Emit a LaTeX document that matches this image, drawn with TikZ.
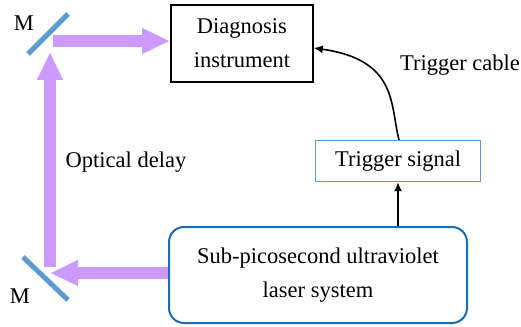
\documentclass[tikz,border=0pt]{standalone}
\usepackage{fontspec}
\setmainfont{Liberation Serif}
\usetikzlibrary{arrows.meta}
\definecolor{beam}{RGB}{204,153,255}
\definecolor{mirror}{RGB}{91,155,213}
\definecolor{lightblue}{RGB}{91,155,213}
\definecolor{darkblue}{RGB}{20,110,190}
\tikzset{
  lbl/.style={font=\fontsize{22.5}{34}\selectfont, inner sep=0pt},
  boxtext/.style={font=\fontsize{22.5}{34}\selectfont, align=center, inner sep=0pt},
  beamarrow/.style={draw=beam, line width=12pt, -{Triangle[length=28pt,width=24pt]}},
  mirrorbar/.style={draw=mirror, line width=5pt},
  sig/.style={draw=black, line width=1.6pt, -{Latex[length=9pt,width=8pt]}}
}
\begin{document}
\begin{tikzpicture}[x=1pt,y=-1pt]
\useasboundingbox (0,0) rectangle (521,326);
% boxes
\node[draw=black, line width=1.8pt, minimum width=142pt, minimum height=77pt, boxtext, anchor=north west] (diag) at (170,4) {Diagnosis\\instrument};
\node[draw=lightblue, line width=1.2pt, minimum width=165pt, minimum height=41pt, boxtext, anchor=north west] (trig) at (315,140) {Trigger signal};
\node[draw=darkblue, line width=2pt, rounded corners=15pt, minimum width=298pt, minimum height=96pt, boxtext, anchor=north west] (laser) at (168,226) {Sub-picosecond ultraviolet\\laser system};
% mirrors
\coordinate (m1a) at (28,54); \coordinate (m1b) at (68,14);
\coordinate (m2a) at (23,257); \coordinate (m2b) at (68,300);
\draw[mirrorbar] (m1a) -- (m1b);
\draw[mirrorbar] (m2a) -- (m2b);
\node[lbl] (M1) at (24,23) {M};
\node[lbl] (M2) at (20,296) {M};
% beams
\coordinate (b1) at (50,273);
\coordinate (b2) at (50,267);
\coordinate (b3) at (50,52);
\coordinate (b4) at (53,41);
\draw[beamarrow] (laser.west |- b1) -- (b1);
\draw[beamarrow] (b2) -- (b3);
\draw[beamarrow] (b4) -- (diag.west |- b4);
\node[lbl] (delay) at (126,162) {Optical delay};
% signals
\draw[sig] (laser.north -| 398,0) -- (trig.south -| 398,0);
\draw[sig] (trig.north -| 399,0) .. controls (390,105) and (398,60) .. (diag.east |- 0,48);
\node[lbl] (cable) at (460,65) {Trigger cable};
\end{tikzpicture}
\end{document}
